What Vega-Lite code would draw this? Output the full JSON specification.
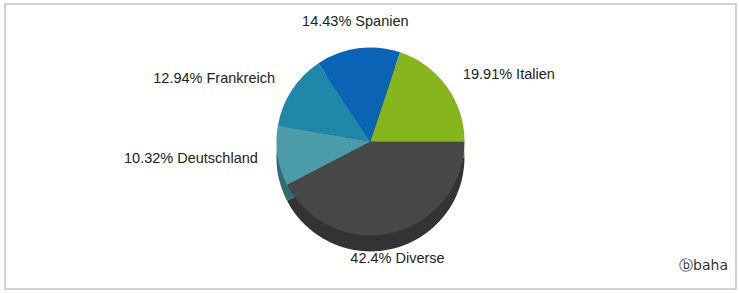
{
  "$schema": "https://vega.github.io/schema/vega-lite/v6.json",
  "width": 739,
  "height": 293,
  "autosize": {"type": "fit", "contains": "padding"},
  "padding": {"left": 5, "top": 4, "right": 3, "bottom": 4},
  "background": "white",
  "view": {"stroke": "#c4c4c4", "strokeWidth": 1.5, "fill": "white"},
  "config": {"view": {"stroke": "#c4c4c4", "strokeWidth": 1.5}, "font": "Liberation Sans"},
  "title": {"text": "ⓑbaha", "orient": "bottom", "anchor": "end", "offset": -30, "dx": -8, "fontSize": 14, "fontWeight": "normal", "color": "#333333", "font": "DejaVu Sans"},
  "data": {"values": [
    {"country": "Diverse", "share": 42.4, "order": 1, "label": "42.4% Diverse"},
    {"country": "Deutschland", "share": 10.32, "order": 2, "label": "10.32% Deutschland"},
    {"country": "Frankreich", "share": 12.94, "order": 3, "label": "12.94% Frankreich"},
    {"country": "Spanien", "share": 14.43, "order": 4, "label": "14.43% Spanien"},
    {"country": "Italien", "share": 19.91, "order": 5, "label": "19.91% Italien"}
  ]},
  "encoding": {
    "theta": {"field": "share", "type": "quantitative", "stack": true, "scale": {"range": [1.5708, 7.854]}},
    "order": {"field": "order", "type": "quantitative"}
  },
  "layer": [
    {
      "mark": {"type": "arc", "outerRadius": 94, "yOffset": 11},
      "encoding": {"color": {"field": "country", "type": "nominal", "legend": null,
        "scale": {"domain": ["Diverse", "Deutschland", "Frankreich", "Spanien", "Italien"],
                  "range": ["#333333", "#2f6c74", "#155e78", "#074a8a", "#5f8412"]}}}
    },
    {
      "mark": {"type": "arc", "outerRadius": 94, "yOffset": -5},
      "encoding": {"color": {"field": "country", "type": "nominal", "legend": null,
        "scale": {"domain": ["Diverse", "Deutschland", "Frankreich", "Spanien", "Italien"],
                  "range": ["#474747", "#4b9ba8", "#1f88aa", "#0a63b4", "#86b51c"]}}}
    },
    {
      "mark": {"type": "text", "radius": 114, "yOffset": -5, "fontSize": 14.5, "color": "#222222",
        "align": {"expr": "sin(scale('theta', (datum.share_start + datum.share_end) / 2)) > 0.35 ? 'left' : (sin(scale('theta', (datum.share_start + datum.share_end) / 2)) < -0.35 ? 'right' : 'center')"},
        "baseline": {"expr": "cos(scale('theta', (datum.share_start + datum.share_end) / 2)) > 0.8 ? 'bottom' : (cos(scale('theta', (datum.share_start + datum.share_end) / 2)) < -0.8 ? 'top' : 'middle')"}},
      "encoding": {"text": {"field": "label", "type": "nominal"}}
    }
  ],
  "resolve": {"scale": {"color": "independent"}}
}
